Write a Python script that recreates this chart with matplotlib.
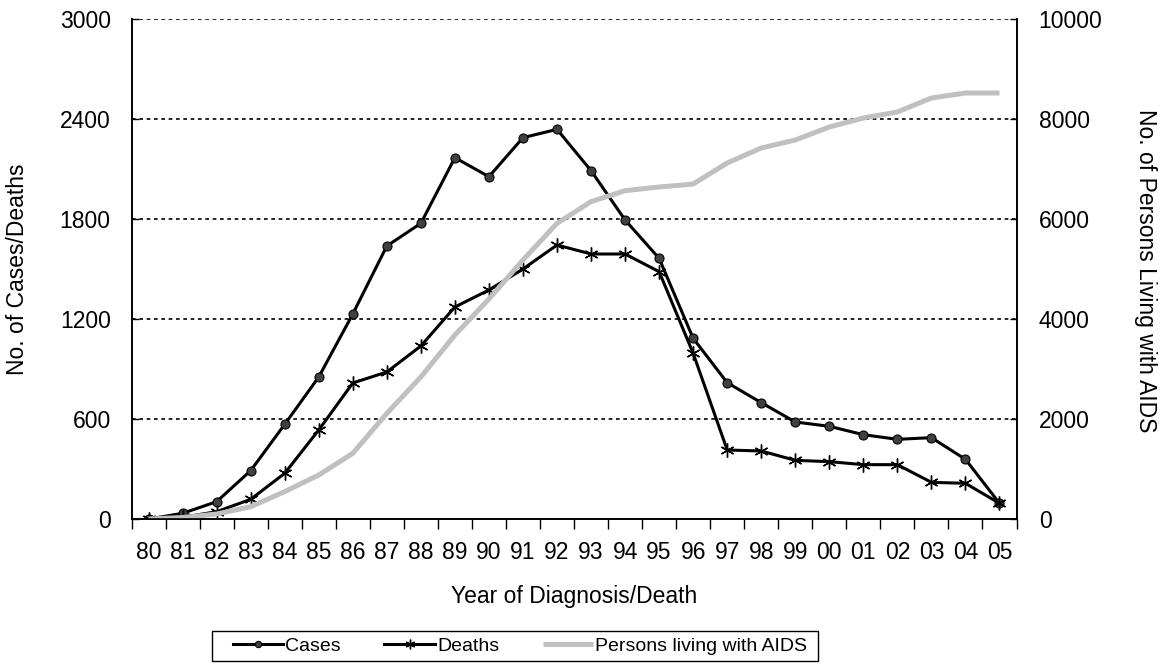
import matplotlib
matplotlib.use("Agg")
import matplotlib.pyplot as plt
from matplotlib.patches import Rectangle
import numpy as np

plt.rcParams['font.family'] = ['Liberation Sans', 'DejaVu Sans']

years = ["80", "81", "82", "83", "84", "85", "86", "87", "88", "89", "90", "91", "92",
         "93", "94", "95", "96", "97", "98", "99", "00", "01", "02", "03", "04", "05"]
cases = [0, 34, 104, 290, 568, 852, 1230, 1638, 1774, 2168, 2054, 2288, 2338,
         2090, 1794, 1564, 1084, 818, 698, 582, 556, 506, 478, 488, 358, 94]
deaths = [0, 10, 44, 118, 274, 534, 816, 882, 1038, 1272, 1374, 1500, 1644,
          1590, 1590, 1484, 994, 414, 408, 352, 344, 326, 326, 220, 214, 94]
living = [0, 30, 100, 246, 547, 880, 1313, 2113, 2840, 3680, 4400, 5180, 5913,
          6347, 6567, 6640, 6700, 7120, 7420, 7580, 7840, 8020, 8140, 8420, 8520, 8520]

FS = 16.5

fig = plt.figure(figsize=(11.62, 6.67), dpi=100)
ax = fig.add_axes([0.1132, 0.2219, 0.7616, 0.7496])
ax2 = ax.twinx()

x = np.arange(len(years))

l1, = ax.plot(x, cases, color='black', lw=2.2, marker='o', markersize=6.5,
              markerfacecolor='#404040', markeredgecolor='black', markeredgewidth=0.8,
              label='Cases', zorder=3)
l2, = ax.plot(x, deaths, color='black', lw=2.2, marker=(6, 2, 0), markersize=10,
              markeredgecolor='black', markeredgewidth=1.0, label='Deaths', zorder=3)
l3, = ax2.plot(x, living, color='#C0C0C0', lw=3.6, label='Persons living with AIDS',
               solid_capstyle='butt')

ax.set_xlim(-0.5, len(years) - 0.5)
ax.set_ylim(0, 3000)
ax2.set_ylim(0, 10000)
ax.set_yticks([0, 600, 1200, 1800, 2400, 3000])
ax2.set_yticks([0, 2000, 4000, 6000, 8000, 10000])

ax.set_xticks(x)
ax.set_xticklabels(years)
ax.set_xticks(np.arange(-0.5, len(years), 1.0), minor=True)
ax.tick_params(axis='x', which='major', length=0, pad=16, labelsize=FS)
ax.tick_params(axis='x', which='minor', length=7, width=1, direction='out')
ax.tick_params(axis='y', length=5, width=1, direction='in', labelsize=FS, pad=15)
ax2.tick_params(axis='y', length=5, width=1, direction='in', labelsize=FS, pad=16)

for yv in [600, 1200, 1800, 2400, 3000]:
    ax.axhline(yv, color='black', lw=1.2, linestyle=(0, (2.2, 2.2)), zorder=1)

for a in (ax, ax2):
    a.spines['top'].set_visible(False)
    for s in a.spines.values():
        s.set_linewidth(1.2)

fig.text(574 / 1162, 1 - 597 / 667, 'Year of Diagnosis/Death', fontsize=FS,
         ha='center', va='center')
fig.text(18 / 1162, 1 - 269 / 667, 'No. of Cases/Deaths', fontsize=FS,
         rotation=90, ha='center', va='center')
fig.text(1145 / 1162, 1 - 271 / 667, 'No. of Persons Living with AIDS', fontsize=FS,
         rotation=-90, ha='center', va='center')

leg = fig.legend(handles=[l1, l2, l3], loc='center', ncol=3,
                 bbox_to_anchor=(0.4475, 0.0315), frameon=False,
                 handlelength=2.6, handletextpad=0.1,
                 columnspacing=2.25, borderpad=0.0, markerscale=0.7,
                 prop={'size': 14})
fig.add_artist(Rectangle((212 / 1162, 1 - 661 / 667), 606 / 1162, 30 / 667,
                         transform=fig.transFigure, fill=False,
                         edgecolor='black', lw=1.0))

fig.savefig('out.png', dpi=100)
